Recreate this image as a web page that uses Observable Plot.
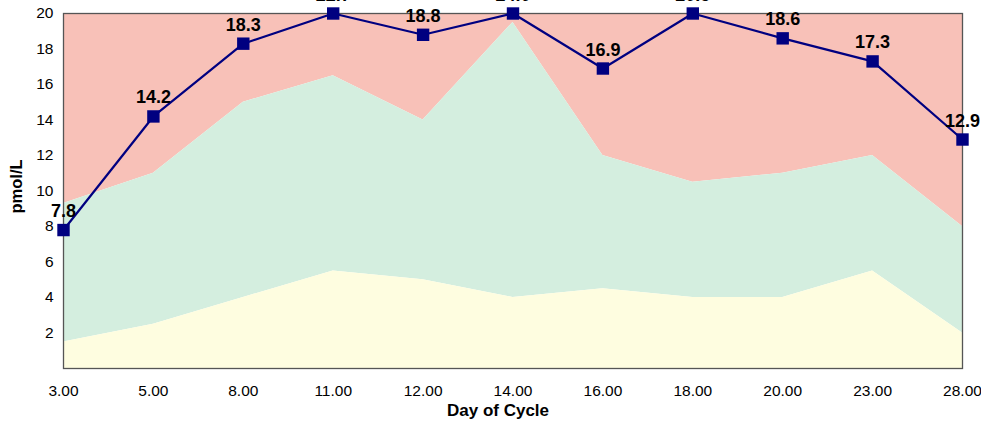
<!DOCTYPE html>
<html>
<head>
<meta charset="utf-8">
<script src="https://cdn.jsdelivr.net/npm/d3@7"></script>
<script src="https://cdn.jsdelivr.net/npm/@observablehq/plot@0.6"></script>
<style>
  html, body { margin: 0; padding: 0; background: #fff; }
  #chart svg { display: block; overflow: hidden; }
</style>
</head>
<body>
<div id="chart"></div>
<script>
const days = ["3.00","5.00","8.00","11.00","12.00","14.00","16.00","18.00","20.00","23.00","28.00"];
const hormone = [7.8, 14.2, 18.3, 22.7, 18.8, 24.0, 16.9, 20.5, 18.6, 17.3, 12.9];
const lowBand = [1.5, 2.5, 4.0, 5.5, 5.0, 4.0, 4.5, 4.0, 4.0, 5.5, 2.0];
const midBand = [9.3, 11.0, 15.0, 16.5, 14.0, 19.5, 12.0, 10.5, 11.0, 12.0, 8.0];
const highBand = [20, 20, 20, 20, 20, 20, 20, 20, 20, 20, 20];
const yTicks = [2, 4, 6, 8, 10, 12, 14, 16, 18, 20];
const xTitle = "Day of Cycle";
const yTitle = "pmol/L";

const rows = days.map((d, i) => ({
  day: d, value: hormone[i], low: lowBand[i], mid: midBand[i], high: highBand[i]
}));

const chart = Plot.plot({
  width: 981,
  height: 421,
  marginLeft: 63,
  marginRight: 19,
  marginTop: 13,
  marginBottom: 53,
  style: { fontFamily: "'Liberation Sans', Arial, Helvetica, sans-serif", fontSize: "15.5px", color: "#000", background: "#fff" },
  x: { type: "point", domain: days, padding: 0, round: false },
  y: { domain: [0, 20], clamp: true },
  marks: [
    Plot.areaY(rows, { x: "day", y1: "mid", y2: "high", fill: "#F8C1B8", curve: "linear" }),
    Plot.areaY(rows, { x: "day", y1: "low", y2: "mid", fill: "#D4EEDF", curve: "linear" }),
    Plot.areaY(rows, { x: "day", y1: 0, y2: "low", fill: "#FEFDE0", curve: "linear" }),
    Plot.frame({ stroke: "#555", strokeWidth: 1.3 }),
    Plot.axisX({ tickSize: 0, tickPadding: 16, fontSize: 15.5, label: null }),
    Plot.axisY({ ticks: yTicks, tickSize: 0, tickPadding: 10, fontSize: 15.5, label: null }),
    Plot.text([xTitle], { text: d => d, frameAnchor: "bottom", dy: 47, dx: -15, lineAnchor: "bottom", fontSize: 17, fontWeight: "bold", fill: "#000" }),
    Plot.text([yTitle], { text: d => d, frameAnchor: "left", dx: -42, dy: -4.5, rotate: -90, lineAnchor: "bottom", textAnchor: "middle", fontSize: 16.5, fontWeight: "bold", fill: "#000" }),
    Plot.line(rows, { x: "day", y: "value", stroke: "#000080", strokeWidth: 2.2 }),
    Plot.dot(rows, { x: "day", y: "value", symbol: "square", r: 7, fill: "#000080", stroke: "none" }),
    Plot.text(rows, { x: "day", y: "value", text: d => d.value.toFixed(1), dy: -13, lineAnchor: "bottom", textAnchor: "middle", fontSize: 18, fontWeight: "bold", fill: "#000" })
  ]
});
document.getElementById("chart").appendChild(chart);
</script>
</body>
</html>
